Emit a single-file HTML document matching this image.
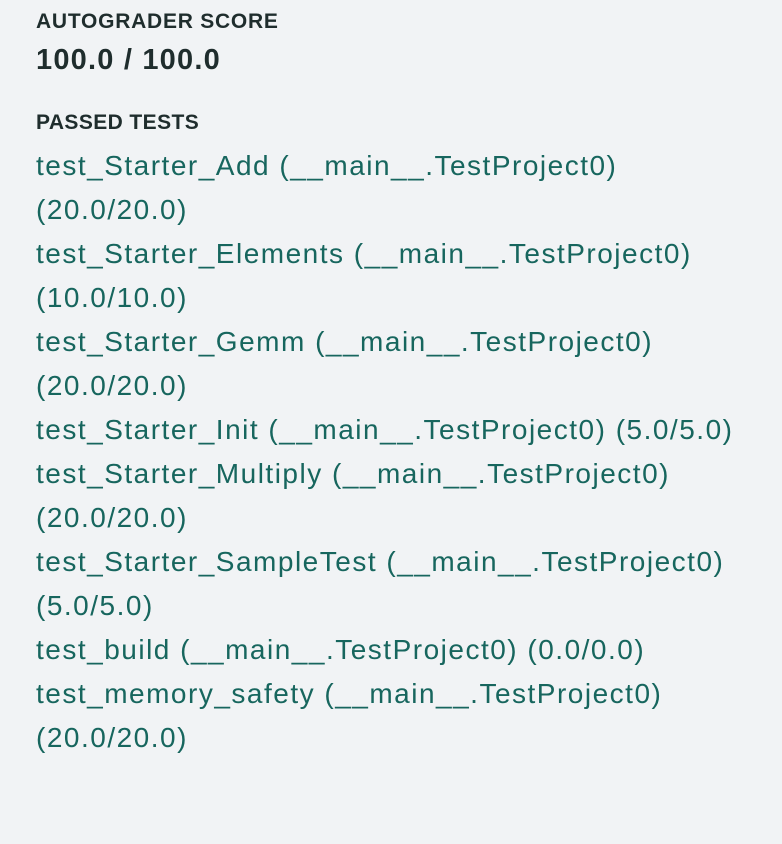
<!DOCTYPE html>
<html><head><style>
html,body{margin:0;padding:0;background:#f1f3f5;width:782px;height:844px;overflow:hidden}
body{font-family:"Liberation Sans",sans-serif;position:relative}
.h{position:absolute;left:36px;font-weight:bold;color:#1f2d2d;white-space:nowrap}
.t{position:absolute;left:36px;font-size:28px;letter-spacing:1.5px;color:#17665e;white-space:nowrap;line-height:1}
</style></head><body>
<div class="h" style="top:10px;font-size:21px;letter-spacing:0.75px">AUTOGRADER SCORE</div>
<div class="h" style="top:44px;font-size:29px;letter-spacing:1.2px">100.0 / 100.0</div>
<div class="h" style="top:111px;font-size:21px;letter-spacing:0.4px">PASSED TESTS</div>
<div class="t" style="top:152px">test_Starter_Add (__main__.TestProject0)</div>
<div class="t" style="top:196px">(20.0/20.0)</div>
<div class="t" style="top:240px">test_Starter_Elements (__main__.TestProject0)</div>
<div class="t" style="top:284px">(10.0/10.0)</div>
<div class="t" style="top:328px">test_Starter_Gemm (__main__.TestProject0)</div>
<div class="t" style="top:372px">(20.0/20.0)</div>
<div class="t" style="top:416px">test_Starter_Init (__main__.TestProject0) (5.0/5.0)</div>
<div class="t" style="top:460px">test_Starter_Multiply (__main__.TestProject0)</div>
<div class="t" style="top:504px">(20.0/20.0)</div>
<div class="t" style="top:548px">test_Starter_SampleTest (__main__.TestProject0)</div>
<div class="t" style="top:592px">(5.0/5.0)</div>
<div class="t" style="top:636px">test_build (__main__.TestProject0) (0.0/0.0)</div>
<div class="t" style="top:680px">test_memory_safety (__main__.TestProject0)</div>
<div class="t" style="top:724px">(20.0/20.0)</div>
</body></html>
